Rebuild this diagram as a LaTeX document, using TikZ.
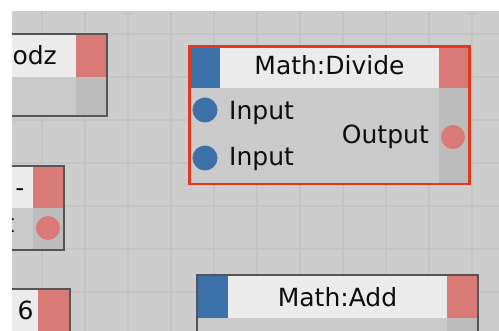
\documentclass[tikz,border=0pt]{standalone}
\usepackage{fontspec}
\setmainfont{DejaVu Sans}
\definecolor{canvas}{HTML}{CDCDCD}
\definecolor{gridline}{HTML}{C4C4C4}
\definecolor{headfill}{HTML}{EBEBEB}
\definecolor{bodyfill}{HTML}{CACACA}
\definecolor{portcol}{HTML}{BCBCBC}
\definecolor{inblue}{HTML}{3C71A9}
\definecolor{outred}{HTML}{D97A76}
\definecolor{frame}{HTML}{555555}
\definecolor{selred}{HTML}{E0391E}
\begin{document}
\begin{tikzpicture}[x=1pt,y=-1pt,
  lbl/.style={inner sep=0pt, font=\fontsize{25}{30}\selectfont, text=black!95},
  nodeframe/.style={draw=frame, line width=2pt},
  selframe/.style={draw=selred, line width=2.5pt},
  inport/.style={fill=inblue},
  outport/.style={fill=outred}]
\useasboundingbox (0,0) rectangle (499,331);
% canvas and grid
\fill[canvas] (0,0) rectangle (499,331);
\foreach \gx in {42,85,...,472} \draw[gridline, line width=1.6pt] (\gx,0) -- (\gx,331);
\foreach \gy in {34,77,...,292} \draw[gridline, line width=1.6pt] (0,\gy) -- (499,\gy);

% node "godz" (top left, partly off canvas)
\fill[headfill] (-20,35) rectangle (76,77);
\fill[outred] (76,35) rectangle (106,77);
\fill[bodyfill] (-20,77) rectangle (76,115);
\fill[portcol] (76,77) rectangle (106,115);
\draw[nodeframe] (-20,34) rectangle (107,116);
\node[lbl, anchor=base east] (godz) at (57,65) {godz};

% node with "-" title (middle left)
\fill[headfill] (-20,167) rectangle (33,208);
\fill[outred] (33,167) rectangle (63,208);
\fill[bodyfill] (-20,208) rectangle (33,249);
\fill[portcol] (33,208) rectangle (63,249);
\draw[nodeframe] (-20,166) rectangle (64,250);
\node[lbl, anchor=base] (dash) at (20,197) {-};
\node[lbl, anchor=base east] (dashout) at (14.5,233) {Output};
\fill[outport] (48,228) circle (12);
\coordinate (dashport) at (48,228);

% node "6" (bottom left)
\fill[headfill] (-20,290) rectangle (38,340);
\fill[outred] (38,290) rectangle (69,340);
\draw[nodeframe] (-20,289) rectangle (70,345);
\node[lbl, anchor=base] (six) at (25.5,320) {6};

% selected node Math:Divide
\fill[inblue] (191,48) rectangle (220,88);
\fill[headfill] (220,48) rectangle (439,88);
\fill[outred] (439,48) rectangle (468,88);
\fill[bodyfill] (191,88) rectangle (439,183);
\fill[portcol] (439,88) rectangle (468,183);
\draw[selframe] (189.5,46.5) rectangle (469.5,184);
\node[lbl, anchor=base] (divtitle) at (329.5,75) {Math:Divide};
\fill[inport] (205,110) circle (12.5);
\fill[inport] (205,158) circle (12.5);
\node[lbl, anchor=base west] (in1) at (229,120) {Input};
\node[lbl, anchor=base west] (in2) at (229,166) {Input};
\node[lbl, anchor=base east] (out) at (429,144) {Output};
\fill[outport] (453,137) circle (12);

% node Math:Add (bottom, partly off canvas)
\fill[inblue] (198,276) rectangle (228,318);
\fill[headfill] (228,276) rectangle (447,318);
\fill[outred] (447,276) rectangle (477,318);
\fill[bodyfill] (198,318) rectangle (447,345);
\fill[portcol] (447,318) rectangle (477,345);
\draw[nodeframe] (197,275) rectangle (478,350);
\node[lbl, anchor=base] (addtitle) at (337.5,307) {Math:Add};

% white margins along the top and left edges
\fill[white] (0,0) rectangle (499,11.5);
\fill[white] (0,0) rectangle (12,331);
\end{tikzpicture}
\end{document}
